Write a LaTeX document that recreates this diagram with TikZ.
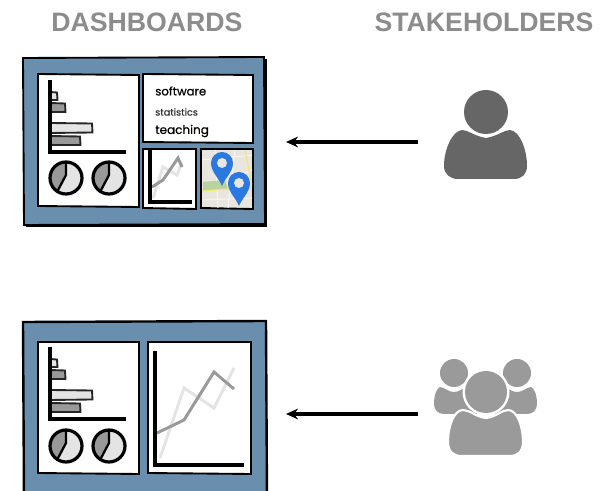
\documentclass[tikz,border=0pt]{standalone}
\usepackage{fontspec}
\setmainfont{Liberation Sans}
\newfontfamily\sketchfont[RawFeature={embolden=0.5}]{Poppins}
\definecolor{hdr}{HTML}{8C8C8C}
\definecolor{dashblue}{HTML}{6A8FAE}
\definecolor{barlight}{HTML}{E4E4E4}
\definecolor{bardark}{HTML}{999999}
\definecolor{pinblue}{HTML}{2B78E0}
\definecolor{mapbg}{HTML}{E9E6DF}
\definecolor{mapgreen}{HTML}{B9D3A0}
\definecolor{mapyellow}{HTML}{F2E878}
\definecolor{maproad}{HTML}{F6F5F1}
\definecolor{pone}{HTML}{666666}
\definecolor{pgroup}{HTML}{9A9A9A}
\tikzset{
  dashpanel/.style={draw=black,line width=1.4pt,fill=dashblue},
  tile/.style={draw=black,line width=1.4pt,fill=white},
  axisline/.style={draw=black,line width=2.5pt},
  barbox/.style={draw=black!85,line width=1.4pt},
  pieline/.style={draw=black,line width=2.4pt},
  headtext/.style={font=\bfseries\fontsize{20}{22}\selectfont,text=hdr,inner sep=0pt},
  arrowline/.style={draw=black,line width=2.4pt,-{Stealth[length=9pt,width=8pt]}},
  serA/.style={draw=bardark,line width=2.2pt},
  serB/.style={draw=barlight,line width=2.2pt},
}
\usetikzlibrary{arrows.meta}
\newcommand{\piechart}[2]{%
  \begin{scope}
    \fill[barlight] (#1,#2) circle[radius=16];
    \clip (#1,#2) circle[radius=16];
    \fill[bardark] (#1,#2-17) -- (#1,#2-3) -- (#1-9,#2+14) -- (#1-20,#2+17) -- (#1-20,#2-17) -- cycle;
    \draw[pieline,line width=1.7pt] (#1,#2-16) -- (#1,#2-3) -- (#1-9,#2+14);
  \end{scope}
  \draw[pieline] (#1,#2) circle[radius=16];
}
\newcommand{\barpanel}[1]{%
  \begin{scope}[shift={(0,#1)}]
    \draw[barbox,fill=barlight] (50,92) -- (57,92.5) -- (57.5,100) -- (50,100) -- cycle;
    \draw[barbox,fill=bardark] (50,103) -- (65,103.5) -- (65.5,112) -- (50,112) -- cycle;
    \draw[barbox,fill=barlight] (50,123) -- (92,123.5) -- (92.5,132.5) -- (50,133) -- cycle;
    \draw[barbox,fill=bardark] (50,136) -- (80,136.5) -- (80.5,145) -- (50,145) -- cycle;
    \draw[axisline] (50,80) -- (50,152) -- (126,152);
  \end{scope}
}
\begin{document}
\begin{tikzpicture}[x=0.75pt,y=-0.75pt]
\useasboundingbox (0,0) rectangle (611,491);
\clip (0,0) rectangle (611,491);
\fill[white] (0,0) rectangle (611,491);
\node[headtext] (titleL) at (147,22) {DASHBOARDS};
\node[headtext] (titleR) at (484,22) {STAKEHOLDERS};
% top dashboard
\fill[black] (26,59) rectangle (266.5,227);
\draw[dashpanel] (23,58) -- (264,57) -- (265,224) -- (24,225) -- cycle;
\draw[tile] (38,74) -- (139,75) -- (139,207) -- (38,206) -- cycle;
\barpanel{0}
\piechart{66}{178}
\piechart{109}{178}
\draw[tile] (143,74) -- (253,75) -- (253,143) -- (143,142) -- cycle;
\node[anchor=west,inner sep=0pt,font=\sketchfont\fontsize{8.8}{11}\selectfont] (t1) at (155,91) {software};
\node[anchor=west,inner sep=0pt,font=\sketchfont\fontsize{7.2}{8}\selectfont,text=black!80] (t2) at (155,112) {statistics};
\node[anchor=west,inner sep=0pt,font=\sketchfont\fontsize{9}{11}\selectfont] (t3) at (155,131) {teaching};
\draw[tile] (143,149) -- (196,149) -- (196,209) -- (143,208) -- cycle;
\draw[serB] (153,198) -- (163,167) -- (177,175) -- (182,162);
\draw[serA] (152,187) -- (163,180) -- (178,158) -- (182,167);
\draw[axisline] (150,150) -- (150,202) -- (192,202);
\draw[tile,fill=mapbg] (201,149) -- (253,149) -- (253,209) -- (201,208) -- cycle;
\begin{scope}
  \clip (202,150) rectangle (252,208);
  \draw[maproad,line width=0.8pt] (201,160) -- (253,155) (201,200) -- (253,198) (215,150) -- (218,208) (235,150) -- (228,208) (225,180) -- (253,170);
  \fill[mapgreen] (203,182) -- (225,180) -- (228,189) -- (203,191) -- cycle;
  \draw[mapyellow,line width=0.9pt] (202,191) -- (228,189) -- (252,183);
  \draw[mapyellow,line width=0.9pt] (245,150) -- (252,186);
\end{scope}
\fill[pinblue] (222,186) .. controls (219,178) and (211,172) .. (211,163) arc[start angle=180,end angle=360,radius=11] .. controls (233,172) and (225,178) .. (222,186) -- cycle;
\fill[mapbg] (222,163) circle[radius=5];
\fill[pinblue] (239,206) .. controls (236,198) and (228,192) .. (228,183) arc[start angle=180,end angle=360,radius=11] .. controls (250,192) and (242,198) .. (239,206) -- cycle;
\fill[mapbg] (239,183) circle[radius=5];
% bottom dashboard
\draw[dashpanel,line width=1.8pt] (23,322) -- (266,321) -- (267,500) -- (24,500) -- cycle;
\draw[tile] (38,342) -- (139,342) -- (139,474) -- (38,473) -- cycle;
\barpanel{267}
\piechart{66}{446}
\piechart{109}{446}
\draw[tile] (148,342) -- (251,342) -- (251,474) -- (148,473) -- cycle;
\draw[serB] (160,458) -- (184,388) -- (214,408) -- (234,368);
\draw[serA] (157,433) -- (184,420) -- (214,372) -- (234,389);
\draw[axisline] (155,351) -- (155,465) -- (244,465);
% person
\fill[pone] (462,130) .. controls (468,130) and (474,136) .. (486,138) .. controls (498,136) and (504,130) .. (510,130) .. controls (520,131) and (527,150) .. (527,166) .. controls (527,174) and (522,179) .. (514,179) -- (458,179) .. controls (450,179) and (444,174) .. (444,166) .. controls (444,150) and (452,131) .. (462,130) -- cycle;
\fill[white] (486,112) circle[radius=24];
\fill[pone] (486,112) circle[radius=22];
\coordinate (single) at (418,142);
\coordinate (dashA) at (286,142);
\draw[arrowline] (single) -- (dashA);
% group
\fill[pgroup] (440,387) .. controls (446,388) and (448,392) .. (454,392) .. controls (460,392) and (462,388) .. (468,387) .. controls (476,388) and (482,400) .. (482,408) -- (482,414) -- (444,414) .. controls (438,414) and (434,410) .. (434,404) .. controls (434,396) and (436,389) .. (440,387) -- cycle;
\fill[pgroup] (531,387) .. controls (525,388) and (523,392) .. (517,392) .. controls (511,392) and (509,388) .. (503,387) .. controls (495,388) and (489,400) .. (489,408) -- (489,414) -- (527,414) .. controls (533,414) and (537,410) .. (537,404) .. controls (537,396) and (535,389) .. (531,387) -- cycle;
\fill[white] (454,373) circle[radius=16];
\fill[white] (517,373) circle[radius=16];
\fill[pgroup] (454,373) circle[radius=14];
\fill[pgroup] (517,373) circle[radius=14];
\draw[white,line width=1.6pt,fill=pgroup] (463,410) .. controls (470,410) and (476,417) .. (486,418) .. controls (496,417) and (502,410) .. (508,410) .. controls (517,410) and (523,426) .. (523,442) .. controls (523,451) and (518,456) .. (510,456) -- (461,456) .. controls (453,456) and (448,451) .. (448,442) .. controls (448,426) and (454,410) .. (463,410) -- cycle;
\fill[white] (486,392) circle[radius=23.5];
\fill[pgroup] (486,392) circle[radius=21];
\coordinate (team) at (418,414);
\coordinate (dashB) at (286,414);
\draw[arrowline] (team) -- (dashB);
\end{tikzpicture}
\end{document}
